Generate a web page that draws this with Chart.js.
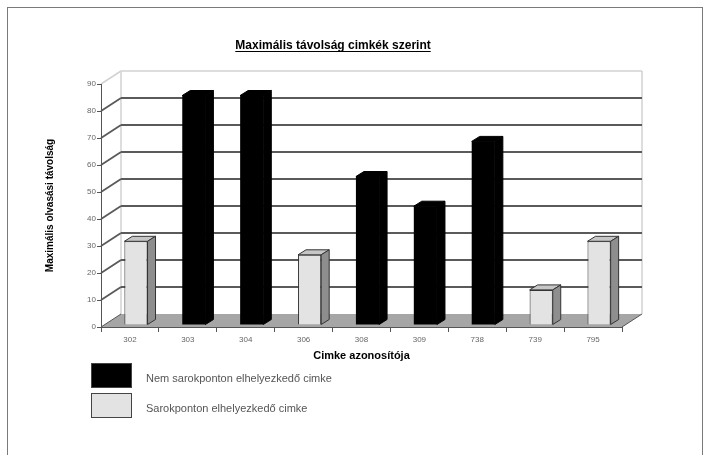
<!DOCTYPE html>
<html>
<head>
<meta charset="utf-8">
<script src="https://cdn.jsdelivr.net/npm/chart.js@4/dist/chart.umd.min.js"></script>
<style>
  body { margin: 0; background: #fff; }
  canvas { display: block; }
</style>
</head>
<body>
<canvas id="chart" width="708" height="455"></canvas>
<script>
// --- Data
const categories = ["302", "303", "304", "306", "308", "309", "738", "739", "795"];
const nemSarokValues = [null, 85, 85, null, 55, 44, 68, null, null];
const sarokValues = [31, null, null, 26, null, null, null, 13, 31];
const yTicks = [0, 10, 20, 30, 40, 50, 60, 70, 80, 90];

const FONT = "'Liberation Sans', Arial, sans-serif";
Chart.defaults.font.family = FONT;

// depth of the walls and of the bars
const DX = 20, DY = -13;
const BX = 8, BY = -5;
const SHIFT_X = 6, SHIFT_Y = -2;

function line(ctx, x1, y1, x2, y2) {
  ctx.beginPath();
  ctx.moveTo(x1, y1);
  ctx.lineTo(x2, y2);
  ctx.stroke();
}

// ------------------------------------------
// WALLS, FLOOR, GRID
// ------------------------------------------
const wallPlugin = {
  id: "wall3d",
  beforeDraw(chart) {
    const { ctx, chartArea: a } = chart;
    const y = chart.scales.y;
    const y0 = y.getPixelForValue(yTicks[0]);
    const yTop = y.getPixelForValue(yTicks[yTicks.length - 1]);
    ctx.save();

    // outer frame
    ctx.strokeStyle = "#7a7a7a";
    ctx.lineWidth = 1;
    ctx.strokeRect(7.5, 7.5, 695, 470);

    // floor
    ctx.fillStyle = "#a6a6a6";
    ctx.beginPath();
    ctx.moveTo(a.left, y0);
    ctx.lineTo(a.right, y0);
    ctx.lineTo(a.right + DX, y0 + DY);
    ctx.lineTo(a.left + DX, y0 + DY);
    ctx.closePath();
    ctx.fill();

    // light wall edges
    ctx.strokeStyle = "#d2d2d2";
    ctx.lineWidth = 1.5;
    line(ctx, a.left + DX, yTop + DY, a.left + DX, y0 + DY);
    line(ctx, a.right + DX, yTop + DY, a.right + DX, y0 + DY);
    line(ctx, a.left + DX, yTop + DY, a.right + DX, yTop + DY);
    line(ctx, a.left, yTop, a.left + DX, yTop + DY);

    // grid lines on the back and left walls
    ctx.strokeStyle = "#5a5a5a";
    ctx.lineWidth = 1.8;
    yTicks.slice(1, -1).forEach(v => {
      const py = y.getPixelForValue(v);
      line(ctx, a.left, py, a.left + DX, py + DY);
      line(ctx, a.left + DX, py + DY, a.right + DX, py + DY);
    });

    // floor edges
    ctx.strokeStyle = "#555";
    ctx.lineWidth = 1;
    line(ctx, a.left, y0, a.left + DX, y0 + DY);
    line(ctx, a.right, y0, a.right + DX, y0 + DY);
    ctx.restore();
  }
};

// ------------------------------------------
// 3D BARS (top and side faces)
// ------------------------------------------
const barPlugin = {
  id: "bar3d",
  beforeDatasetsDraw(chart) {
    chart.ctx.save();
    chart.ctx.translate(SHIFT_X, SHIFT_Y);
  },
  afterDatasetsDraw(chart) {
    const ctx = chart.ctx;
    chart.data.datasets.forEach((ds, i) => {
      const meta = chart.getDatasetMeta(i);
      meta.data.forEach((bar, j) => {
        if (ds.data[j] == null) return;
        const { x, y, base, width } = bar.getProps(["x", "y", "base", "width"], true);
        const l = x - width / 2, r = x + width / 2;
        const dark = ds.backgroundColor === "#000000";
        ctx.lineWidth = 1;
        ctx.strokeStyle = dark ? "#000" : "#333";

        // top face
        ctx.fillStyle = dark ? "#000" : "#c6c6c6";
        ctx.beginPath();
        ctx.moveTo(l, y);
        ctx.lineTo(l + BX, y + BY);
        ctx.lineTo(r + BX, y + BY);
        ctx.lineTo(r, y);
        ctx.closePath();
        ctx.fill();
        ctx.stroke();

        // side face
        ctx.fillStyle = dark ? "#000" : "#8e8e8e";
        ctx.beginPath();
        ctx.moveTo(r, y);
        ctx.lineTo(r + BX, y + BY);
        ctx.lineTo(r + BX, base + BY);
        ctx.lineTo(r, base);
        ctx.closePath();
        ctx.fill();
        ctx.stroke();
      });
    });
    ctx.restore();
  }
};

// ------------------------------------------
// LEGEND + TITLE UNDERLINE
// ------------------------------------------
const extrasPlugin = {
  id: "extras",
  afterDraw(chart) {
    const ctx = chart.ctx;
    ctx.save();

    // title underline
    const tb = chart.titleBlock;
    ctx.font = "bold 12px " + FONT;
    const tw = ctx.measureText(chart.options.plugins.title.text).width;
    const cx = (tb.left + tb.right) / 2;
    ctx.strokeStyle = "#000";
    ctx.lineWidth = 1;
    line(ctx, cx - tw / 2, tb.top + 13.5, cx + tw / 2, tb.top + 13.5);

    // legend boxes
    chart.data.datasets.forEach((ds, i) => {
      const top = 363 + i * 30;
      ctx.fillStyle = ds.backgroundColor;
      ctx.fillRect(91, top, 40, 24);
      ctx.strokeStyle = "#444";
      ctx.strokeRect(91.5, top + 0.5, 40, 24);
      ctx.fillStyle = "#555";
      ctx.font = "11px " + FONT;
      ctx.textBaseline = "middle";
      ctx.fillText(ds.label, 146, top + 16);
    });
    ctx.restore();
  }
};

// ------------------------------------------
// CHART
// ------------------------------------------
new Chart(document.getElementById("chart"), {
  type: "bar",
  data: {
    labels: categories,
    datasets: [
      {
        label: "Nem sarokponton elhelyezkedő cimke",
        data: nemSarokValues,
        backgroundColor: "#000000",
        borderWidth: 0
      },
      {
        label: "Sarokponton elhelyezkedő cimke",
        data: sarokValues,
        backgroundColor: "#e3e3e3",
        borderColor: "#333",
        borderWidth: 1
      }
    ]
  },
  options: {
    responsive: false,
    animation: false,
    grouped: false,
    barPercentage: 0.4,
    categoryPercentage: 1,
    layout: { padding: { left: 44, right: 86, top: 38, bottom: 92 } },
    plugins: {
      legend: { display: false },
      tooltip: { enabled: false },
      title: {
        display: true,
        text: "Maximális távolság cimkék szerint",
        color: "#000",
        font: { size: 12, weight: "bold" },
        padding: { top: 0, bottom: 31.6 }
      }
    },
    scales: {
      x: {
        offset: true,
        grid: { drawOnChartArea: false, tickLength: 5, color: "#555", offset: true },
        border: { color: "#555" },
        ticks: { color: "#666", font: { size: 8 }, padding: 3, maxRotation: 0, autoSkip: false },
        title: {
          display: true,
          text: "Cimke azonosítója",
          color: "#000",
          font: { size: 11, weight: "bold" },
          padding: 0
        },
        afterFit(s) { s.height = 36; }
      },
      y: {
        min: yTicks[0],
        max: yTicks[yTicks.length - 1],
        afterBuildTicks(s) { s.ticks = yTicks.map(v => ({ value: v })); },
        grid: { drawOnChartArea: false, tickLength: 4, color: "#555" },
        border: { color: "#555" },
        ticks: { color: "#666", font: { size: 8 }, padding: 1 },
        title: {
          display: true,
          text: "Maximális olvasási távolság",
          color: "#000",
          font: { size: 10, weight: "bold" },
          padding: 0
        },
        afterFit(s) { s.width = 57; }
      }
    }
  },
  plugins: [wallPlugin, barPlugin, extrasPlugin]
});
</script>
</body>
</html>
